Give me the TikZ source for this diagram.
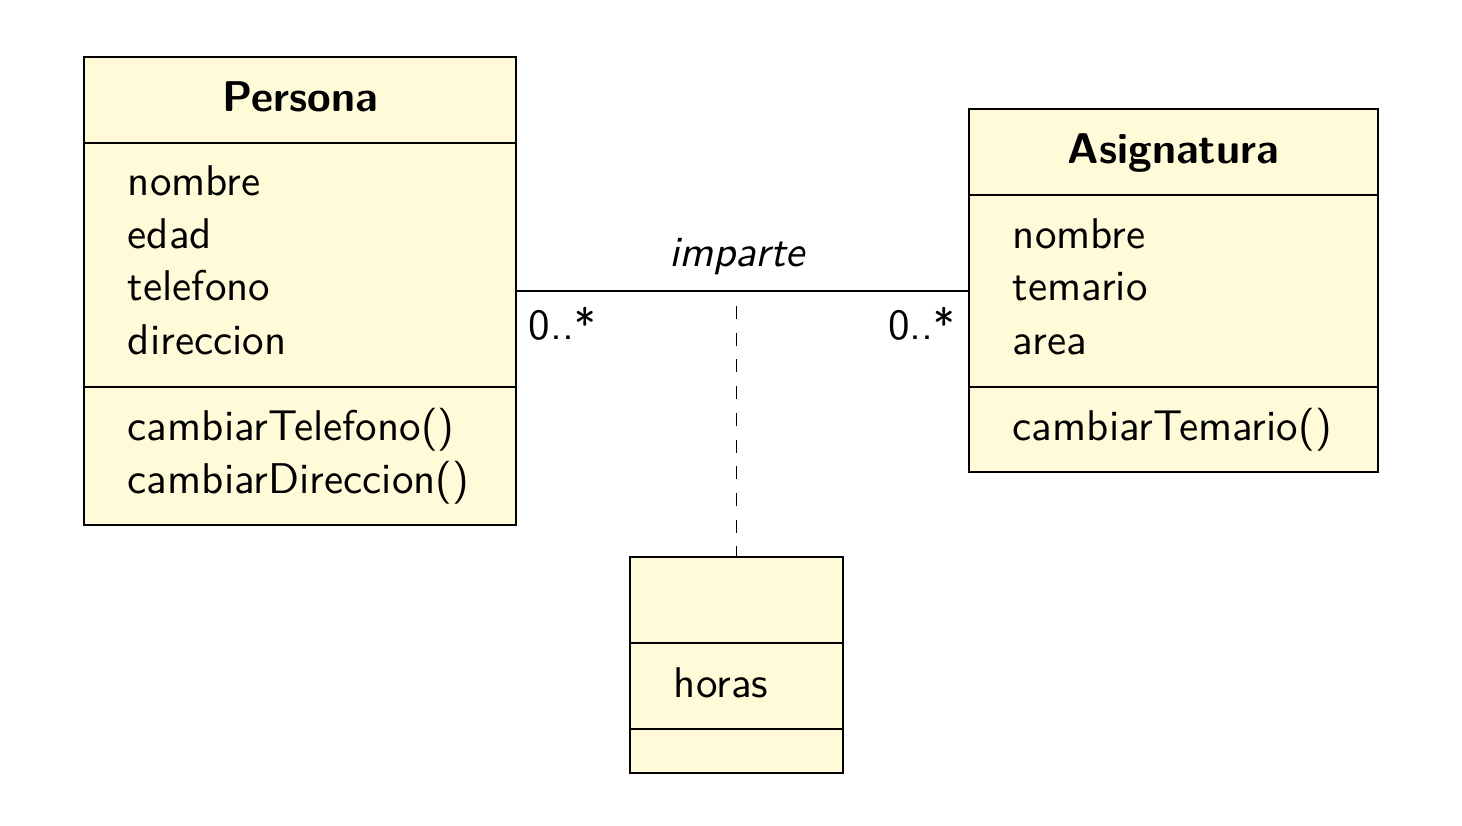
\documentclass[tikz,border=0pt]{standalone}
\usepackage{tikz}
\definecolor{umlfill}{RGB}{255,250,215}
\tikzset{
  classbox/.style={draw=black, fill=umlfill, line width=1.6pt, rectangle, inner sep=0pt},
  divider/.style={line width=1.6pt},
  txt/.style={font=\sffamily\fontsize{10}{12}\selectfont, scale=4.3, inner sep=0pt, anchor=base west},
  title/.style={font=\sffamily\bfseries\fontsize{10}{12}\selectfont, scale=4.3, inner sep=0pt, anchor=base},
  assoc/.style={line width=1.6pt},
  dashline/.style={line width=1.6pt, dash pattern=on 13pt off 13.7pt},
}
\begin{document}
\begin{tikzpicture}[x=1pt,y=-1pt]
\useasboundingbox (0,0) rectangle (1462,826);
% Persona
\node[classbox, minimum width=432pt, minimum height=468pt] (persona) at (300,291) {};
\draw[divider] (84,143) -- (516,143);
\draw[divider] (84,387) -- (516,387);
\node[title] (pt) at (300,112) {Persona};
\node[txt] (p1) at (127,196) {nombre};
\node[txt] (p2) at (127,249) {edad};
\node[txt] (p3) at (127,301) {telefono};
\node[txt] (p4) at (127,354) {direccion};
\node[txt] (p5) at (127,440) {cambiarTelefono()};
\node[txt] (p6) at (127,493) {cambiarDireccion()};
% Asignatura
\node[classbox, minimum width=409pt, minimum height=363pt] (asig) at (1173.5,290.5) {};
\draw[divider] (969,195) -- (1378,195);
\draw[divider] (969,387) -- (1378,387);
\node[title] (at) at (1173.5,164) {Asignatura};
\node[txt] (a1) at (1012,249) {nombre};
\node[txt] (a2) at (1012,301) {temario};
\node[txt] (a3) at (1012,354) {area};
\node[txt] (a4) at (1012,440) {cambiarTemario()};
% association class
\node[classbox, minimum width=213pt, minimum height=216pt] (ac) at (736.5,665) {};
\draw[divider] (630,643) -- (843,643);
\draw[divider] (630,729) -- (843,729);
\node[txt] (h1) at (673,697) {horas};
% association
\draw[assoc] (persona.east |- 0,291) -- (asig.west |- 0,291);
\node[font=\sffamily\itshape\fontsize{10}{12}\selectfont, scale=4.3, inner sep=0pt, anchor=base] (lbl) at (737,267) {imparte};
\node[txt] (m1) at (528,340) {0..*};
\node[font=\sffamily\fontsize{10}{12}\selectfont, scale=4.3, inner sep=0pt, anchor=base east] (m2) at (956,340) {0..*};
\coordinate (dtop) at (736.5,306);
\draw[dashline] (dtop) -- (ac.north);
\end{tikzpicture}
\end{document}
